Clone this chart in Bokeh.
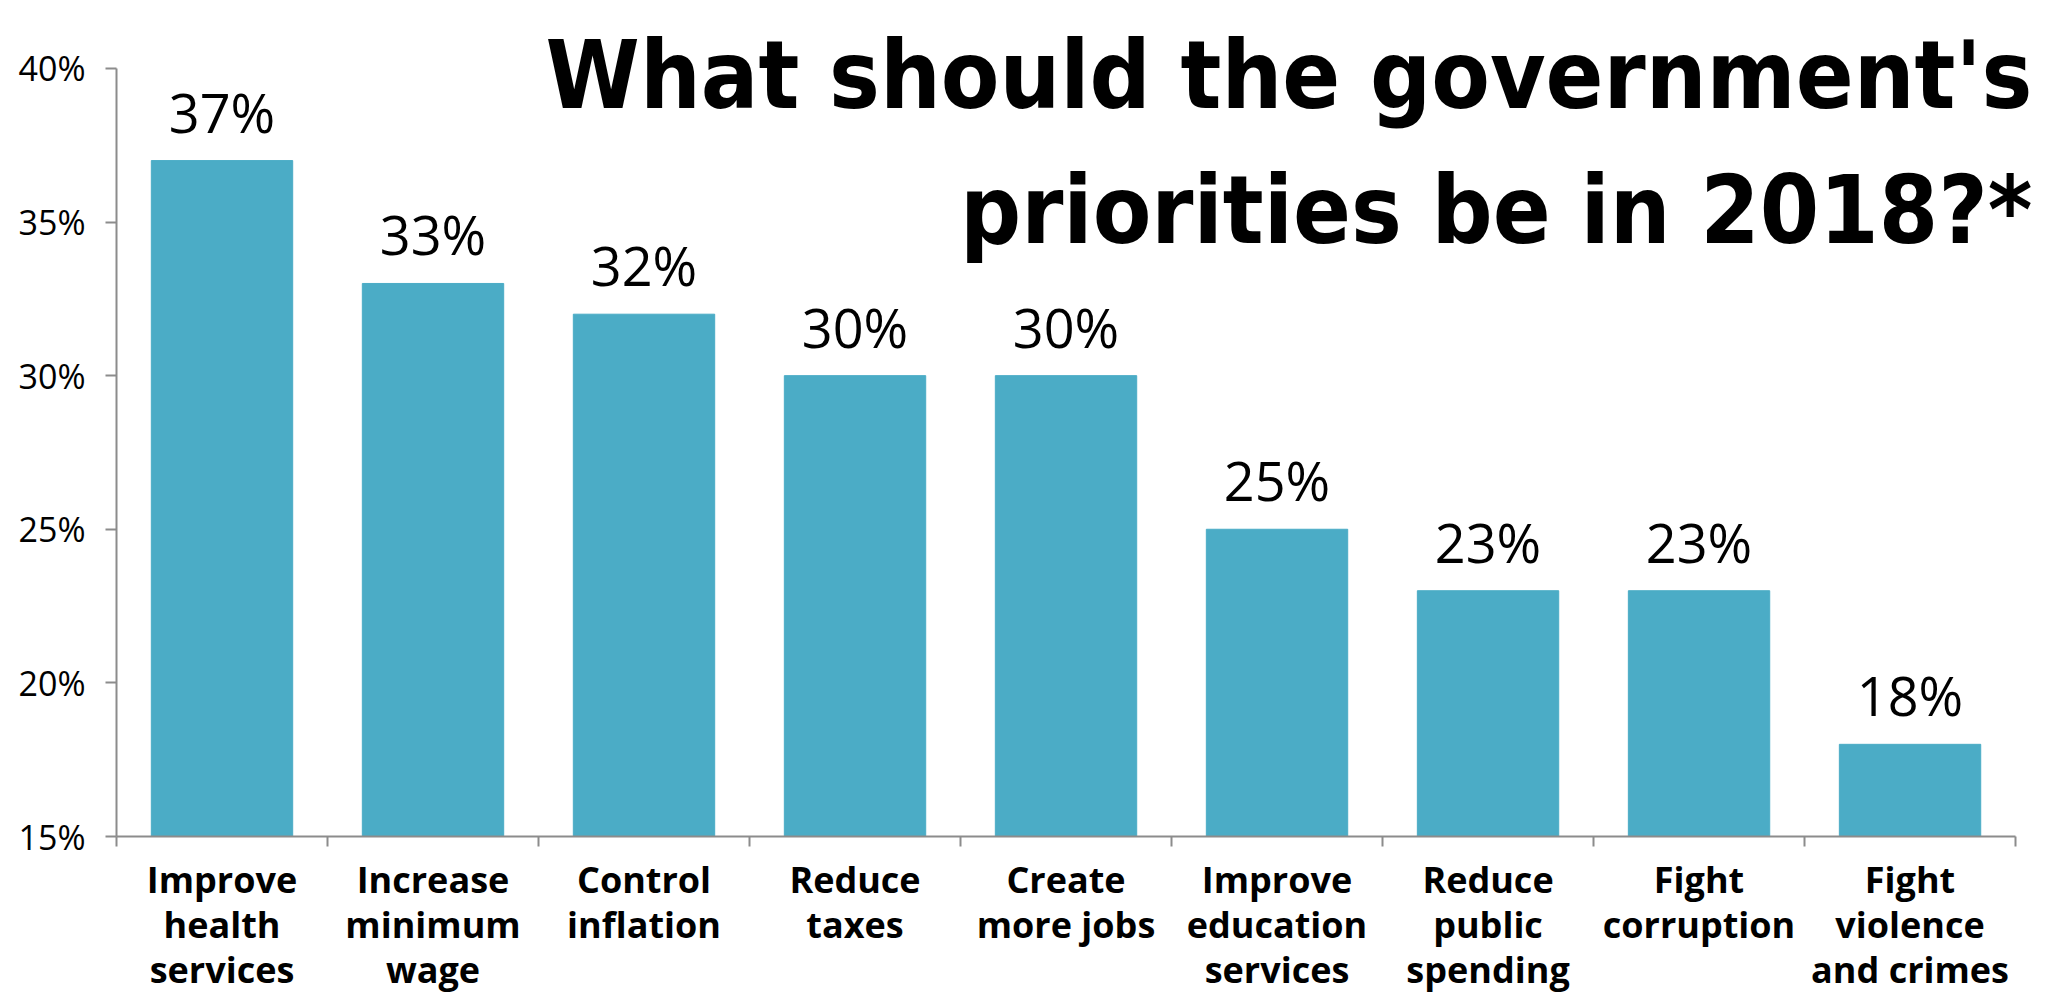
from bokeh.plotting import figure
from bokeh.models import Range1d, FixedTicker, PrintfTickFormatter, Label, ColumnDataSource
from bokeh.core.properties import value
from bokeh.embed import file_html
from bokeh.resources import INLINE

categories = ["Improve\nhealth\nservices", "Increase\nminimum\nwage", "Control\ninflation",
              "Reduce\ntaxes", "Create\nmore jobs", "Improve\neducation\nservices",
              "Reduce\npublic\nspending", "Fight\ncorruption", "Fight\nviolence\nand crimes"]
values = [37, 33, 32, 30, 30, 25, 23, 23, 18]
y_ticks = [15, 20, 25, 30, 35, 40]
title_lines = ["What should the government's", "priorities be in 2018?*"]

n = len(categories)
xs = [i + 0.5 for i in range(n)]
src = ColumnDataSource(dict(x=xs, top=values, lab=[f"{v}%" for v in values]))

# frame spans to the top/right edges so the title can overlap the plot area;
# the axes themselves are bounded to the data extent
p = figure(width=2041, height=996, output_backend="svg", toolbar_location=None,
           x_range=Range1d(0, 9.123), y_range=Range1d(15, 42.21),
           min_border_left=116, min_border_right=0, min_border_top=0, min_border_bottom=159)
p.outline_line_color = None
p.xgrid.visible = False
p.ygrid.visible = False
p.background_fill_color = "white"

p.vbar(x="x", top="top", bottom=15, width=0.67, color="#4BACC6", source=src)
p.text(x="x", y="top", text="lab", source=src, text_align="center", text_baseline="bottom",
       y_offset=-12, text_font=value("Open Sans"), text_font_size="54px", text_color="#000000")

# y axis
ya = p.yaxis[0]
ya.bounds = (15, 40)
ya.ticker = FixedTicker(ticks=y_ticks, minor_ticks=[])
ya.formatter = PrintfTickFormatter(format="%d%%")
ya.axis_line_color = "#8c8c8c"
ya.axis_line_width = 2
ya.major_tick_line_color = "#8c8c8c"
ya.major_tick_line_width = 2
ya.major_tick_out = 11
ya.major_tick_in = 0
ya.minor_tick_line_color = None
ya.major_label_standoff = 20
ya.major_label_text_font = "Open Sans"
ya.major_label_text_font_size = "34px"
ya.major_label_text_color = "#000000"

# x axis
xa = p.xaxis[0]
xa.bounds = (0, n)
xa.ticker = FixedTicker(ticks=xs, minor_ticks=list(range(n + 1)))
xa.major_label_overrides = {x: c for x, c in zip(xs, categories)}
xa.axis_line_color = "#8c8c8c"
xa.axis_line_width = 2
xa.major_tick_line_color = None
xa.major_tick_out = 0
xa.major_tick_in = 0
xa.minor_tick_line_color = "#8c8c8c"
xa.minor_tick_line_width = 2
xa.minor_tick_out = 10
xa.minor_tick_in = 0
xa.major_label_standoff = 8
xa.major_label_text_font = "Open Sans"
xa.major_label_text_font_style = "bold"
xa.major_label_text_font_size = "36px"
xa.major_label_text_color = "#000000"
xa.major_label_text_line_height = 0.92

for txt, yy in zip(title_lines, [39.80, 35.38]):
    p.add_layout(Label(x=9.08, y=yy, text=txt, text_align="right", text_baseline="alphabetic",
                       text_font="DejaVu Sans Condensed", text_font_style="bold",
                       text_font_size="95px", text_color="#000000"))

open("out.html", "w").write(file_html(p, INLINE))
